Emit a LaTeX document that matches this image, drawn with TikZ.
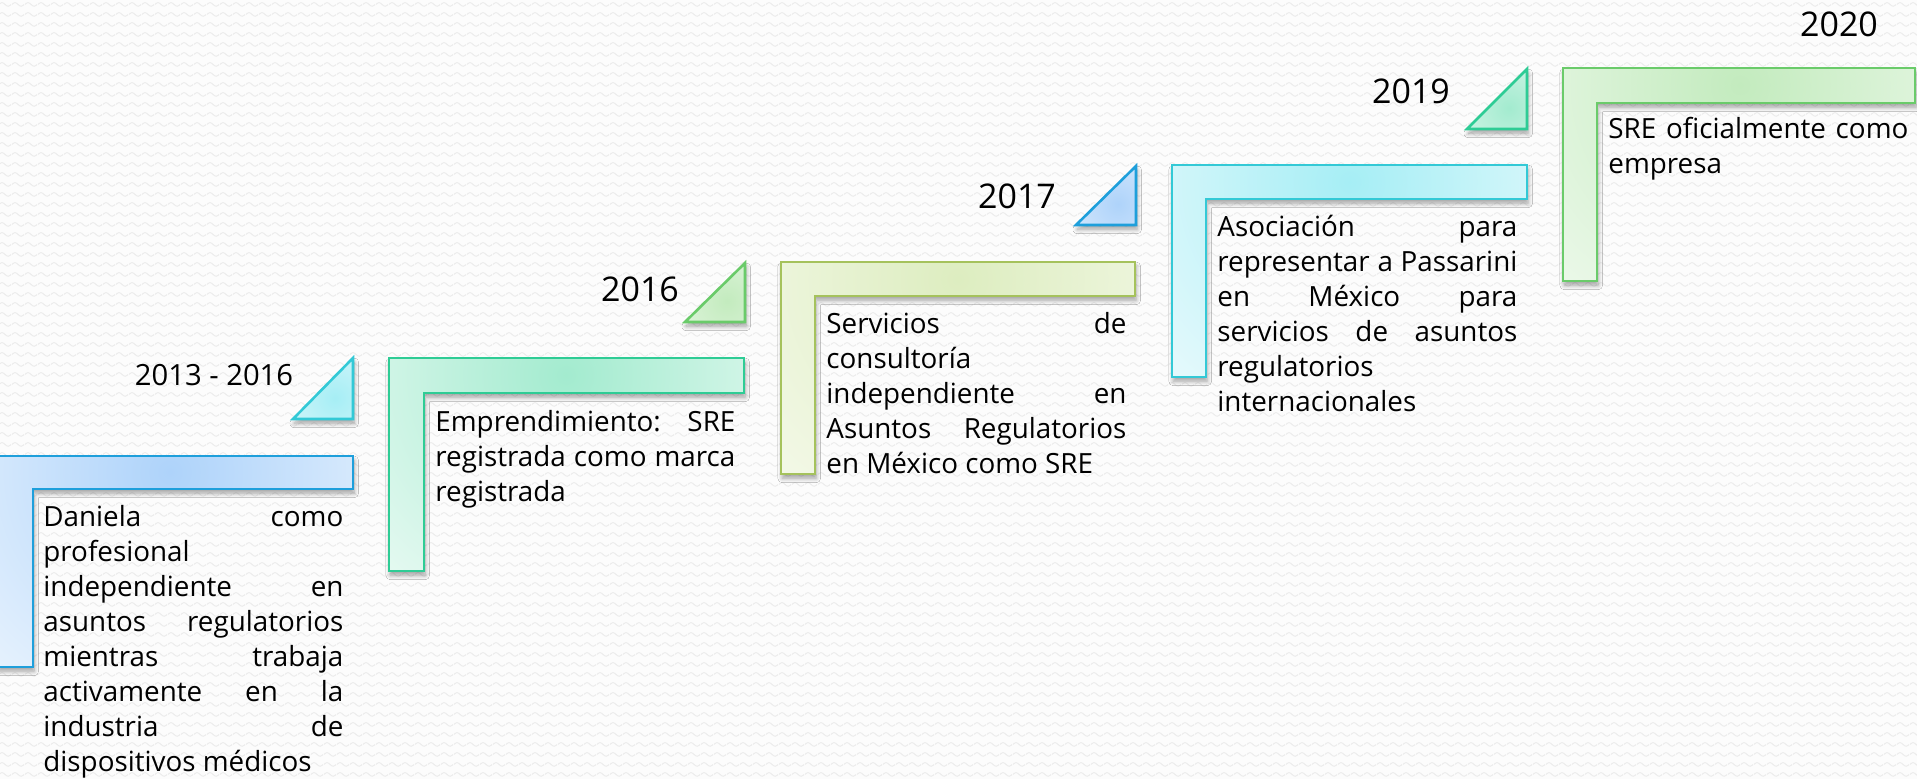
\documentclass[tikz,border=0pt]{standalone}
\usepackage{fontspec}
\setmainfont{Open Sans}
\usetikzlibrary{shadows,shadows.blur,patterns}
\definecolor{bg}{HTML}{FCFCFC}
\definecolor{wave}{HTML}{EBEBEB}
\definecolor{blueB}{HTML}{1E9FDB}\definecolor{blueI}{HTML}{AED3FA}\definecolor{blueO}{HTML}{EEF6FE}
\definecolor{cyanB}{HTML}{33C9D6}\definecolor{cyanI}{HTML}{A6EEF5}\definecolor{cyanO}{HTML}{EEFBFD}
\definecolor{tealB}{HTML}{2ECC95}\definecolor{tealI}{HTML}{A3EBCF}\definecolor{tealO}{HTML}{EDFBF5}
\definecolor{grnB}{HTML}{6ACB6A}\definecolor{grnI}{HTML}{C3EBBE}\definecolor{grnO}{HTML}{F0FAEE}
\definecolor{oliB}{HTML}{A5C25C}\definecolor{oliI}{HTML}{DDEDC0}\definecolor{oliO}{HTML}{F6FAEC}
\pgfdeclarepatternformonly{bgwaves}{\pgfpointorigin}{\pgfpoint{6.5pt}{5pt}}{\pgfpoint{6.5pt}{5pt}}{%
  \pgfsetlinewidth{0.5pt}%
  \pgfpathmoveto{\pgfpoint{0pt}{2.5pt}}%
  \pgfpathsine{\pgfpoint{1.625pt}{1pt}}%
  \pgfpathcosine{\pgfpoint{1.625pt}{-1pt}}%
  \pgfpathsine{\pgfpoint{1.625pt}{-1pt}}%
  \pgfpathcosine{\pgfpoint{1.625pt}{1pt}}%
  \pgfusepath{stroke}}
\newcommand\jline[1]{\makebox[\linewidth][s]{#1}}
\newcommand\bodyfont{\fontsize{13.9}{17.5}\selectfont}
\begin{document}
\begin{tikzpicture}[x=0.5pt,y=-0.5pt,
  shape3d/.style={line width=1.3pt, line join=miter,
    blur shadow={shadow xshift=0.6pt, shadow yshift=-2.2pt, shadow blur steps=8, shadow opacity=35}},
  year/.style={font=\fontsize{17}{20}\selectfont, anchor=base, inner sep=0pt},
  body/.style={anchor=base west, inner sep=0pt}]
\useasboundingbox (0,0) rectangle (1917,779);
\fill[bg] (0,0) rectangle (1917,779);
\fill[pattern=bgwaves, pattern color=wave] (0,0) rectangle (1917,779);

% L shapes
\path[shape3d, draw=blueB, fill=blueO, path picture={\shade[inner color=blueI, outer color=blueO] (170,472) circle [radius=300];}]
  (-3,456) -- (353,456) -- (353,489) -- (33,489) -- (33,667) -- (-3,667) -- cycle;
\path[shape3d, draw=tealB, fill=tealO, path picture={\shade[inner color=tealI, outer color=tealO] (566,375) circle [radius=300];}]
  (389,358) -- (744,358) -- (744,393) -- (424,393) -- (424,571) -- (389,571) -- cycle;
\path[shape3d, draw=oliB, fill=oliO, path picture={\shade[inner color=oliI, outer color=oliO] (958,279) circle [radius=300];}]
  (781,262) -- (1135,262) -- (1135,296) -- (815,296) -- (815,474) -- (781,474) -- cycle;
\path[shape3d, draw=cyanB, fill=cyanO, path picture={\shade[inner color=cyanI, outer color=cyanO] (1350,182) circle [radius=300];}]
  (1172,165) -- (1527,165) -- (1527,199) -- (1206,199) -- (1206,377) -- (1172,377) -- cycle;
\path[shape3d, draw=grnB, fill=grnO, path picture={\shade[inner color=grnI, outer color=grnO] (1740,85) circle [radius=300];}]
  (1563,68) -- (1915,68) -- (1915,103) -- (1597,103) -- (1597,281) -- (1563,281) -- cycle;

% triangles
\path[shape3d, draw=cyanB, fill=cyanO, path picture={\shade[inner color=cyanI, outer color=cyanO] (335,398) circle [radius=90];}]
  (293,419) -- (353,419) -- (353,358) -- cycle;
\path[shape3d, draw=grnB, fill=grnO, path picture={\shade[inner color=grnI, outer color=grnO] (727,301) circle [radius=90];}]
  (685,322) -- (745,322) -- (745,263) -- cycle;
\path[shape3d, draw=blueB, fill=blueO, path picture={\shade[inner color=blueI, outer color=blueO] (1118,204) circle [radius=90];}]
  (1076,225) -- (1136,225) -- (1136,166) -- cycle;
\path[shape3d, draw=tealB, fill=tealO, path picture={\shade[inner color=tealI, outer color=tealO] (1509,108) circle [radius=90];}]
  (1467,129) -- (1527,129) -- (1527,69) -- cycle;

% years
\node[year, font=\fontsize{14.6}{18}\selectfont] (y1) at (214,386) {2013 - 2016};
\node[year] (y2) at (640,302) {2016};
\node[year] (y3) at (1017,209) {2017};
\node[year] (y4) at (1411,104) {2019};
\node[year] (y5) at (1839,37) {2020};

% texts
\node[body] (t1) at (43,527) {\parbox[t]{150pt}{\raggedright\bodyfont
  \jline{Daniela como}\\ profesional\\ \jline{independiente en}\\ \jline{asuntos regulatorios}\\
  \jline{mientras trabaja}\\ \jline{activamente en la}\\ \jline{industria de}\\ dispositivos médicos}};
\node[body] (t2) at (435,432) {\parbox[t]{150pt}{\raggedright\bodyfont
  \jline{Emprendimiento: SRE}\\ \jline{registrada como marca}\\ registrada}};
\node[body] (t3) at (826,334) {\parbox[t]{150pt}{\raggedright\bodyfont
  \jline{Servicios de}\\ consultoría\\ \jline{independiente en}\\ \jline{Asuntos Regulatorios}\\ en México como SRE}};
\node[body] (t4) at (1217,237) {\parbox[t]{150pt}{\raggedright\bodyfont
  \jline{Asociación para}\\ \jline{representar a Passarini}\\ \jline{en México para}\\ \jline{servicios de asuntos}\\ regulatorios\\ internacionales}};
\node[body] (t5) at (1608,139) {\parbox[t]{150pt}{\raggedright\bodyfont
  \jline{SRE oficialmente como}\\ empresa}};
\end{tikzpicture}
\end{document}
